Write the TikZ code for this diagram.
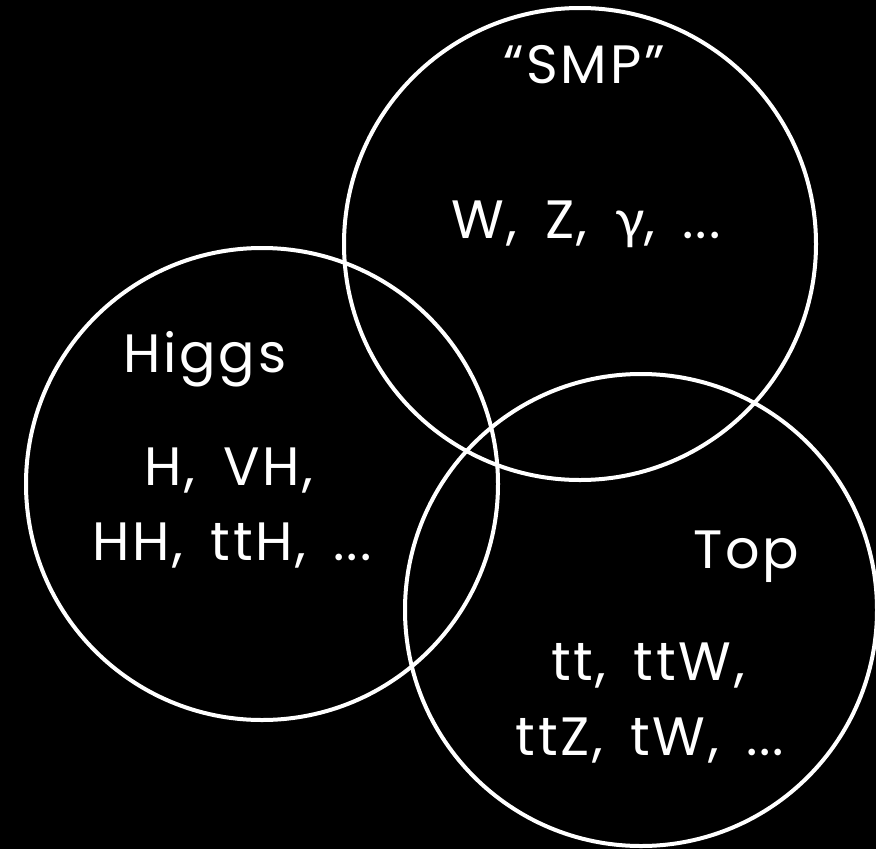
\documentclass[tikz,border=0pt]{standalone}
\usepackage{fontspec}
\setmainfont[WordSpace=1.6,LetterSpace=5]{Poppins}
\newfontfamily\greekfont{Lato}
\tikzset{
	ring/.style={circle,draw=white,line width=4pt,inner sep=0pt,minimum size=472pt},
	lbl/.style={text=white,font=\fontsize{54}{60}\selectfont,anchor=base,inner sep=0pt}
}
\begin{document}
\begin{tikzpicture}[x=1pt,y=-1pt]
			\fill[black](0,0)rectangle(876,849);
			\useasboundingbox(0,0)rectangle(876,849);
			\node[ring](smp)at(580,244){};
			\node[ring](higgs)at(262,484){};
			\node[ring](top)at(641,610){};
			\node[lbl](smptitle)at(584,83){``SMP''};
			\node[lbl](smptext)at(586,238){W, Z, {\greekfont γ}, .\kern2pt.\kern2pt.};
			\node[lbl](higgstitle)at(205,372){Higgs};
			\node[lbl](higgstext1)at(229,485){H, VH,};
			\node[lbl](higgstext2)at(232,560){HH, ttH, .\kern2pt.\kern2pt.};
			\node[lbl](toptitle)at(746,568){Top};
			\node[lbl](toptext1)at(648,680){tt, ttW,};
			\node[lbl](toptext2)at(650,755){ttZ, tW, .\kern2pt.\kern2pt.};
		\end{tikzpicture}
\end{document}
